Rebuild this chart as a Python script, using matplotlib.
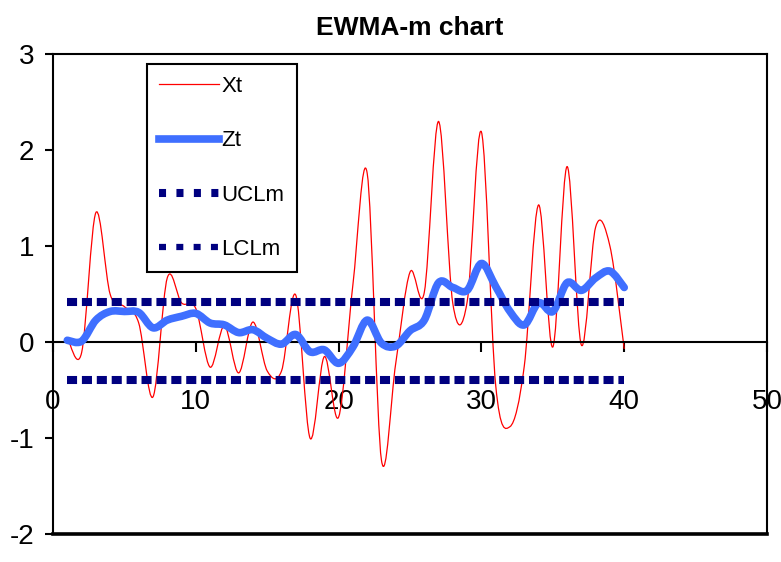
import numpy as np
import matplotlib
matplotlib.use("Agg")
import matplotlib.pyplot as plt
from matplotlib.path import Path
from matplotlib.patches import PathPatch
from matplotlib.lines import Line2D

plt.rcParams["font.family"] = ["Liberation Sans", "DejaVu Sans"]
plt.rcParams["axes.unicode_minus"] = False

# values
t = np.arange(1, 41)
xt = [0.05, -0.11, 1.35, 0.50, 0.37, 0.20, -0.57, 0.67, 0.41, 0.35,
      -0.26, 0.17, -0.32, 0.21, -0.30, -0.30, 0.49, -1.00, -0.15, -0.78,
      0.60, 1.76, -1.23, -0.22, 0.73, 0.52, 2.30, 0.40, 0.42, 2.19,
      -0.45, -0.88, -0.25, 1.43, -0.05, 1.83, -0.03, 1.20, 1.00, -0.07]
zt = [0.02, 0.01, 0.23, 0.32, 0.32, 0.31, 0.15, 0.23, 0.27, 0.30,
      0.20, 0.18, 0.10, 0.13, 0.04, -0.02, 0.08, -0.10, -0.08, -0.22,
      -0.05, 0.23, -0.01, -0.04, 0.12, 0.23, 0.62, 0.57, 0.54, 0.82,
      0.58, 0.32, 0.18, 0.41, 0.32, 0.62, 0.54, 0.67, 0.74, 0.57]
ucl = 0.42
lcl = -0.39

x_ticks = [0, 10, 20, 30, 40, 50]
y_ticks = [-2, -1, 0, 1, 2, 3]


def smooth_path(x, y):
    """Excel-style smoothed line: Catmull-Rom segments as cubic Beziers."""
    pts = np.column_stack([x, y]).astype(float)
    p = np.vstack([pts[0], pts, pts[-1]])
    verts = [pts[0]]
    codes = [Path.MOVETO]
    for i in range(len(pts) - 1):
        p0, p1, p2, p3 = p[i], p[i + 1], p[i + 2], p[i + 3]
        verts += [p1 + (p2 - p0) / 6.0, p2 - (p3 - p1) / 6.0, p2]
        codes += [Path.CURVE4] * 3
    return Path(verts, codes)


fig = plt.figure(figsize=(7.81, 5.62), dpi=100)
ax = fig.add_axes([0.0679, 0.0496, 0.9142, 0.8538])

red = "#ff0000"
blue = "#3f6fff"
navy = "#000080"

ax.add_patch(PathPatch(smooth_path(t, xt), fill=False, edgecolor=red,
                       lw=0.9, zorder=2))
ax.add_patch(PathPatch(smooth_path(t, zt), fill=False, edgecolor=blue,
                       lw=5.5, joinstyle="round", capstyle="round", zorder=3))
ax.plot(t, np.full(len(t), ucl), color=navy, lw=5.8,
        dashes=(1.25, 0.6), dash_capstyle="butt", zorder=4)
ax.plot(t, np.full(len(t), lcl), color=navy, lw=5.8,
        dashes=(1.25, 0.6), dash_capstyle="butt", zorder=4)

ax.set_xlim(0, 50)
ax.set_ylim(-2, 3)
ax.set_xticks(x_ticks)
ax.set_yticks(y_ticks)

ax.spines["bottom"].set_position(("data", 0))
for s in ["left", "right", "top", "bottom"]:
    ax.spines[s].set_linewidth(1.5)
ax.axhline(-2, color="black", lw=2.6, clip_on=False, zorder=5)

ax.tick_params(axis="y", direction="out", length=5.5, width=1.5, pad=8,
               labelsize=20)
ax.tick_params(axis="x", direction="out", length=7, width=1.5, pad=27,
               labelsize=20)

ax.set_title("EWMA-m chart", fontsize=19, fontweight="bold", pad=14)

handles = [
    Line2D([], [], color=red, lw=0.9),
    Line2D([], [], color=blue, lw=5.5),
    Line2D([], [], color=navy, lw=5.8, dashes=(0.875, 1.29), dash_capstyle="butt"),
    Line2D([], [], color=navy, lw=4.5, dashes=(1.12, 1.65), dash_capstyle="butt"),
]
leg = ax.legend(handles, ["Xt", "Zt", "UCLm", "LCLm"], loc="upper left",
                bbox_to_anchor=(0.1317, 0.98), borderaxespad=0,
                fontsize=16, frameon=True, fancybox=False, shadow=False,
                handlelength=2.7, handletextpad=0.1, labelspacing=1.5,
                borderpad=0.55)
leg.get_frame().set_edgecolor("black")
leg.get_frame().set_linewidth(1.5)
leg.get_frame().set_alpha(1)

fig.savefig("out.png", dpi=100)
